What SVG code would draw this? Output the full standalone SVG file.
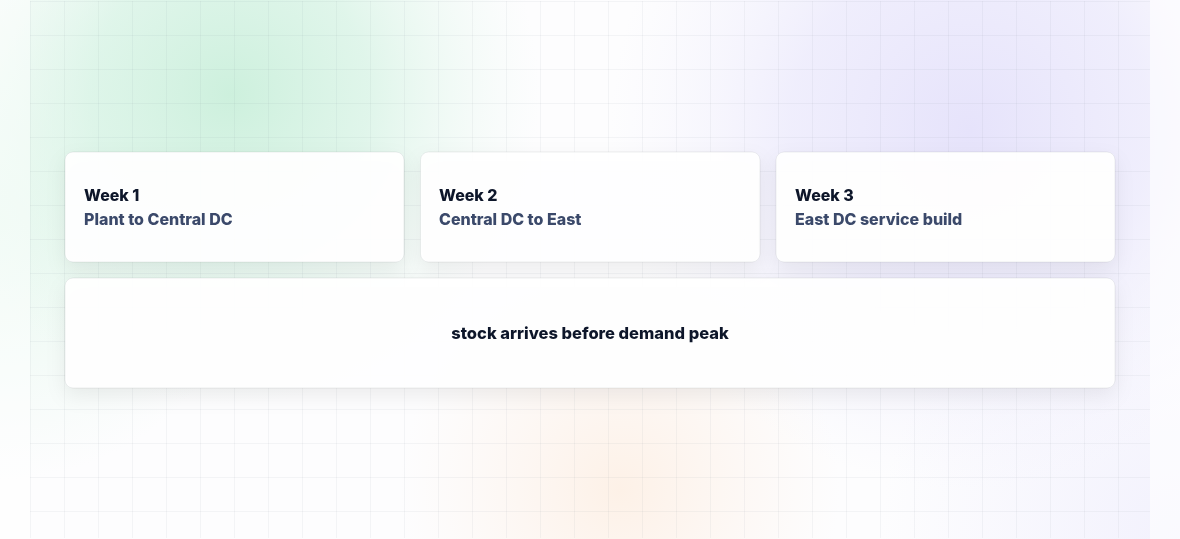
<svg xmlns="http://www.w3.org/2000/svg" width="1180" height="539" viewBox="0 0 1180 539">
  <defs>
    <radialGradient id="gGreen" gradientUnits="userSpaceOnUse" cx="230" cy="95" r="310">
      <stop offset="0" stop-color="#cdf0dd" stop-opacity="1"/>
      <stop offset="0.45" stop-color="#d6f3e4" stop-opacity="0.75"/>
      <stop offset="1" stop-color="#e8f8ef" stop-opacity="0"/>
    </radialGradient>
    <radialGradient id="gGreenLeft" gradientUnits="userSpaceOnUse" cx="0" cy="220" r="260">
      <stop offset="0" stop-color="#e6f8ee" stop-opacity="0.9"/>
      <stop offset="1" stop-color="#e6f8ee" stop-opacity="0"/>
    </radialGradient>
    <radialGradient id="gPurple" gradientUnits="userSpaceOnUse" cx="970" cy="130" r="360">
      <stop offset="0" stop-color="#e6e3fb" stop-opacity="1"/>
      <stop offset="0.5" stop-color="#ebe9fc" stop-opacity="0.75"/>
      <stop offset="1" stop-color="#f3f2fd" stop-opacity="0"/>
    </radialGradient>
    <radialGradient id="gPurpleBR" gradientUnits="userSpaceOnUse" cx="1180" cy="539" r="300">
      <stop offset="0" stop-color="#f1f0fd" stop-opacity="0.9"/>
      <stop offset="1" stop-color="#f1f0fd" stop-opacity="0"/>
    </radialGradient>
    <radialGradient id="gOrange" gradientUnits="userSpaceOnUse" cx="620" cy="490" r="220">
      <stop offset="0" stop-color="#fdf1e7" stop-opacity="1"/>
      <stop offset="1" stop-color="#fdf3ec" stop-opacity="0"/>
    </radialGradient>
    <pattern id="grid" patternUnits="userSpaceOnUse" x="30" y="1" width="34" height="34">
      <path d="M0 0.5 H34 M0.5 0 V34" fill="none" stroke="#64748b" stroke-opacity="0.065" stroke-width="1"/>
    </pattern>
    <filter id="shadow" x="-10%" y="-30%" width="120%" height="170%">
      <feDropShadow dx="0" dy="8" stdDeviation="10" flood-color="#0f172a" flood-opacity="0.07"/>
    </filter>
    <style>
      .card { fill: #ffffff; fill-opacity: 0.95; stroke: #0f172a; stroke-opacity: 0.07; stroke-width: 1; }
      .title { font-family: Inter, "Liberation Sans", sans-serif; font-weight: 800; font-size: 16px; fill: #0f172a; }
      .sub { font-family: Inter, "Liberation Sans", sans-serif; font-weight: 800; font-size: 16px; fill: #3b4a6b; }
      .main { font-family: Inter, "Liberation Sans", sans-serif; font-weight: 800; font-size: 16.5px; fill: #0f172a; }
    </style>
  </defs>

  <g id="background">
    <rect x="0" y="0" width="1180" height="539" fill="#fdfdfe"/>
    <rect x="0" y="0" width="1180" height="539" fill="url(#gGreenLeft)"/>
    <rect x="0" y="0" width="1180" height="539" fill="url(#gGreen)"/>
    <rect x="0" y="0" width="1180" height="539" fill="url(#gPurpleBR)"/>
    <rect x="0" y="0" width="1180" height="539" fill="url(#gPurple)"/>
    <rect x="0" y="0" width="1180" height="539" fill="url(#gOrange)"/>
    <rect x="30" y="1" width="1120" height="537" fill="url(#grid)"/>
    <rect x="0" y="0" width="30" height="539" fill="#ffffff" fill-opacity="0.45"/>
    <rect x="1150" y="0" width="30" height="539" fill="#ffffff" fill-opacity="0.6"/>
  </g>

  <g id="connectors"></g>

  <g id="week1" filter="url(#shadow)">
    <rect class="card" x="65" y="152" width="339" height="110" rx="8"/>
    <text class="title" x="84" y="201">Week 1</text>
    <text class="sub" x="84" y="225">Plant to Central DC</text>
  </g>

  <g id="week2" filter="url(#shadow)">
    <rect class="card" x="420.5" y="152" width="339.5" height="110" rx="8"/>
    <text class="title" x="439" y="201">Week 2</text>
    <text class="sub" x="439" y="225">Central DC to East</text>
  </g>

  <g id="week3" filter="url(#shadow)">
    <rect class="card" x="776" y="152" width="339" height="110" rx="8"/>
    <text class="title" x="795" y="201">Week 3</text>
    <text class="sub" x="795" y="225">East DC service build</text>
  </g>

  <g id="outcome" filter="url(#shadow)">
    <rect class="card" x="65" y="278" width="1050" height="110" rx="8"/>
    <text class="main" x="590" y="339" text-anchor="middle">stock arrives before demand peak</text>
  </g>
</svg>
